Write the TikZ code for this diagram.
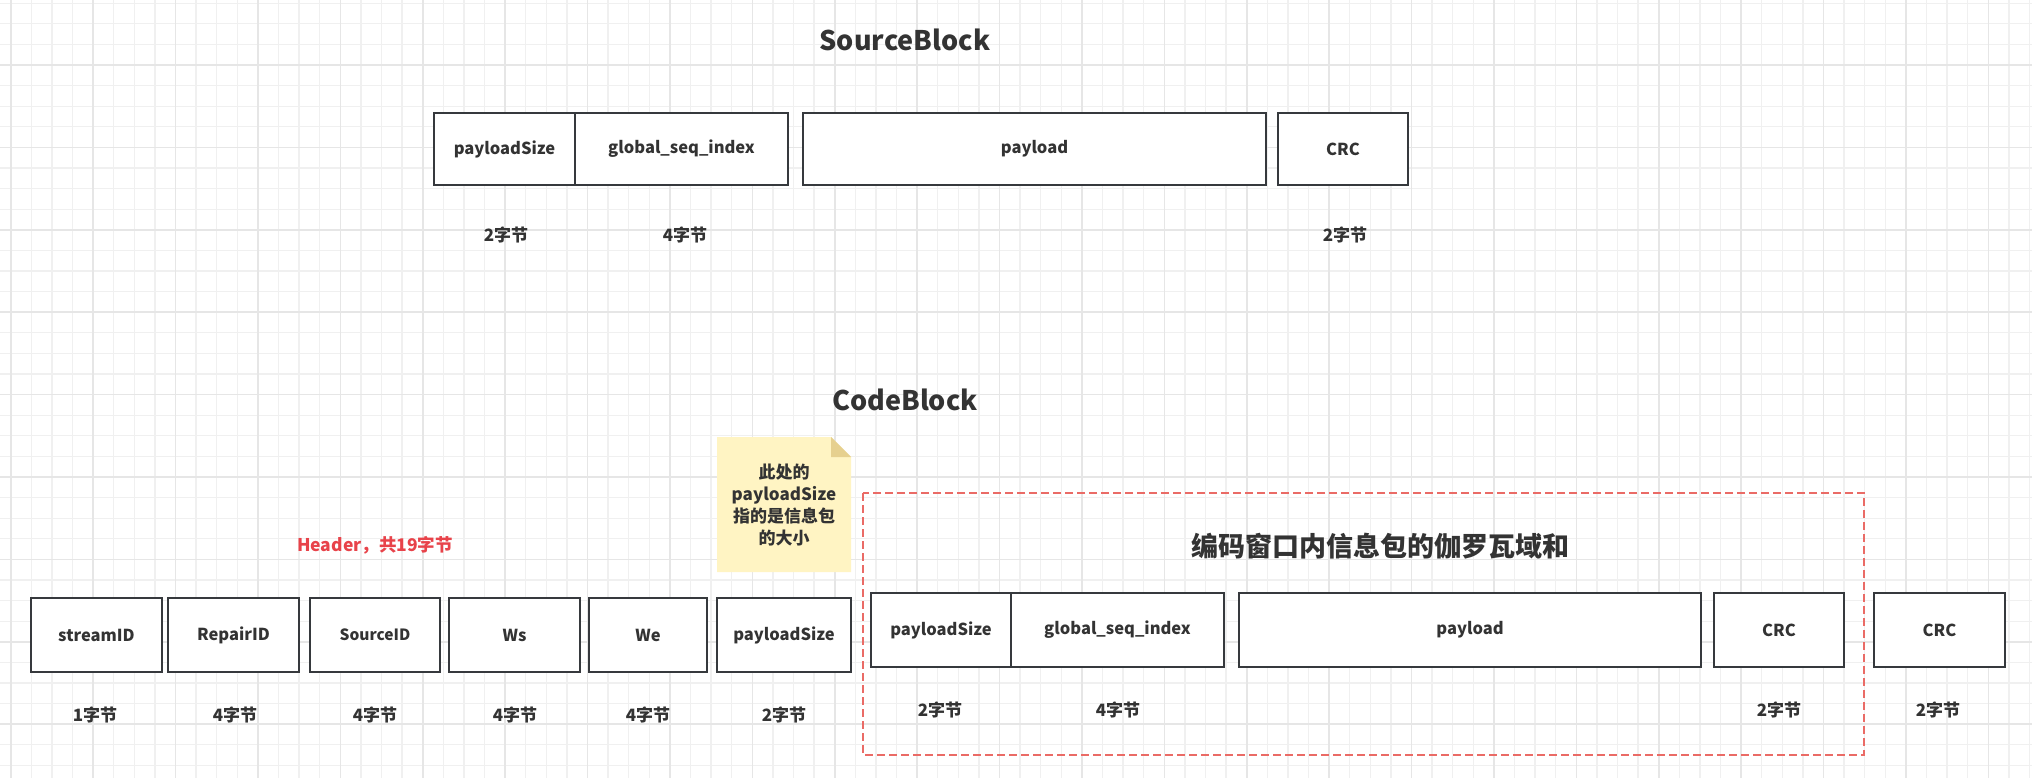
\documentclass[tikz,border=0pt]{standalone}
\usepackage{fontspec}
\setmainfont{Noto Sans CJK SC}
\definecolor{boxc}{HTML}{36393D}
\definecolor{txt}{HTML}{333333}
\definecolor{gridminor}{HTML}{F0F0F0}
\definecolor{gridmajor}{HTML}{E6E6E6}
\definecolor{redc}{HTML}{E8434A}
\definecolor{dashc}{HTML}{EA6B66}
\definecolor{notefill}{HTML}{FFF4C3}
\definecolor{notefold}{HTML}{E6D08F}
\begin{document}
\begin{tikzpicture}[x=1pt,y=-1pt,
  fld/.style={draw=boxc, line width=2pt, fill=white, inner sep=0pt,
    font=\fontsize{16.5}{19}\selectfont\bfseries, text=txt},
  bytes/.style={font=\fontsize{17}{20}\selectfont\bfseries, text=txt, inner sep=0pt},
  ttl/.style={font=\fontsize{27}{32}\selectfont\bfseries, text=txt, inner sep=0pt}]
\useasboundingbox (0,0) rectangle (2032,778);
\fill[white] (0,0) rectangle (2032,778);
% grid
\foreach \i in {0,...,100} {
  \pgfmathsetmacro{\gx}{-9.9+20.6*\i}
  \pgfmathsetmacro{\gy}{3.2+20.6*\i}
  \draw[gridminor, line width=1.3pt] (\gx,0) -- (\gx,778);
  \draw[gridminor, line width=1.3pt] (0,\gy) -- (2032,\gy);
}
\foreach \i in {0,...,25} {
  \pgfmathsetmacro{\gx}{10.7+82.4*\i}
  \pgfmathsetmacro{\gy}{-17.4+82.4*\i}
  \draw[gridmajor, line width=1.6pt] (\gx,0) -- (\gx,778);
  \draw[gridmajor, line width=1.6pt] (0,\gy) -- (2032,\gy);
}
% SourceBlock
\node[ttl] (stitle) at (905,40) {SourceBlock};
\node[fld, minimum width=141pt, minimum height=72pt] (sps) at (504.5,149) {payloadSize};
\node[fld, minimum width=213pt, minimum height=72pt] (sgsi) at (681.5,149) {global\_seq\_index};
\node[fld, minimum width=463pt, minimum height=72pt] (spl) at (1034.5,149) {payload};
\node[fld, minimum width=130pt, minimum height=72pt] (scrc) at (1343,149) {CRC};
\node[bytes] (sb1) at (506,235) {2字节};
\node[bytes] (sb2) at (685,235) {4字节};
\node[bytes] (sb3) at (1345,235) {2字节};
% CodeBlock
\node[ttl] (ctitle) at (905,400) {CodeBlock};
\node[font=\fontsize{17.5}{20}\selectfont\bfseries, text=redc, inner sep=0pt] (hdr) at (375,545) {Header，共19字节};
% note
\fill[notefill] (717,437) -- (831,437) -- (851,457) -- (851,572) -- (717,572) -- cycle;
\fill[notefold] (831,437) -- (851,457) -- (831,457) -- cycle;
\node[font=\fontsize{17}{21.7}\selectfont\bfseries, text=txt, align=center, inner sep=0pt] (note) at (784,505) {此处的\\payloadSize\\指的是信息包\\的大小};
% dashed window
\draw[dashc, line width=2pt, dash pattern=on 8pt off 4pt] (863,493) rectangle (1864,755);
\node[font=\fontsize{27}{32}\selectfont\bfseries, text=txt, inner sep=0pt] (wtitle) at (1380,546) {编码窗口内信息包的伽罗瓦域和};
% header fields
\node[fld, minimum width=131pt, minimum height=74pt] (hsid) at (96.5,635) {streamID};
\node[fld, minimum width=131pt, minimum height=74pt] (hrid) at (233.5,635) {RepairID};
\node[fld, minimum width=130pt, minimum height=74pt, font=\fontsize{15.5}{18}\selectfont\bfseries] (hsrc) at (375,635) {SourceID};
\node[fld, minimum width=131pt, minimum height=74pt] (hws) at (514.5,635) {Ws};
\node[fld, minimum width=118pt, minimum height=74pt] (hwe) at (648,635) {We};
\node[fld, minimum width=134pt, minimum height=74pt] (hps) at (784,635) {payloadSize};
\node[bytes] (hb1) at (95,715) {1字节};
\node[bytes] (hb2) at (235,715) {4字节};
\node[bytes] (hb3) at (375,715) {4字节};
\node[bytes] (hb4) at (515,715) {4字节};
\node[bytes] (hb5) at (648,715) {4字节};
\node[bytes] (hb6) at (784,715) {2字节};
% window fields
\node[fld, minimum width=140pt, minimum height=74pt] (wps) at (941,630) {payloadSize};
\node[fld, minimum width=213pt, minimum height=74pt] (wgsi) at (1117.5,630) {global\_seq\_index};
\node[fld, minimum width=462pt, minimum height=74pt] (wpl) at (1470,630) {payload};
\node[fld, minimum width=130pt, minimum height=74pt] (wcrc) at (1779,630) {CRC};
\node[fld, minimum width=131pt, minimum height=74pt] (ccrc) at (1939.5,630) {CRC};
\node[bytes] (wb1) at (940,710) {2字节};
\node[bytes] (wb2) at (1118,710) {4字节};
\node[bytes] (wb3) at (1779,710) {2字节};
\node[bytes] (wb4) at (1938,710) {2字节};
\end{tikzpicture}
\end{document}
